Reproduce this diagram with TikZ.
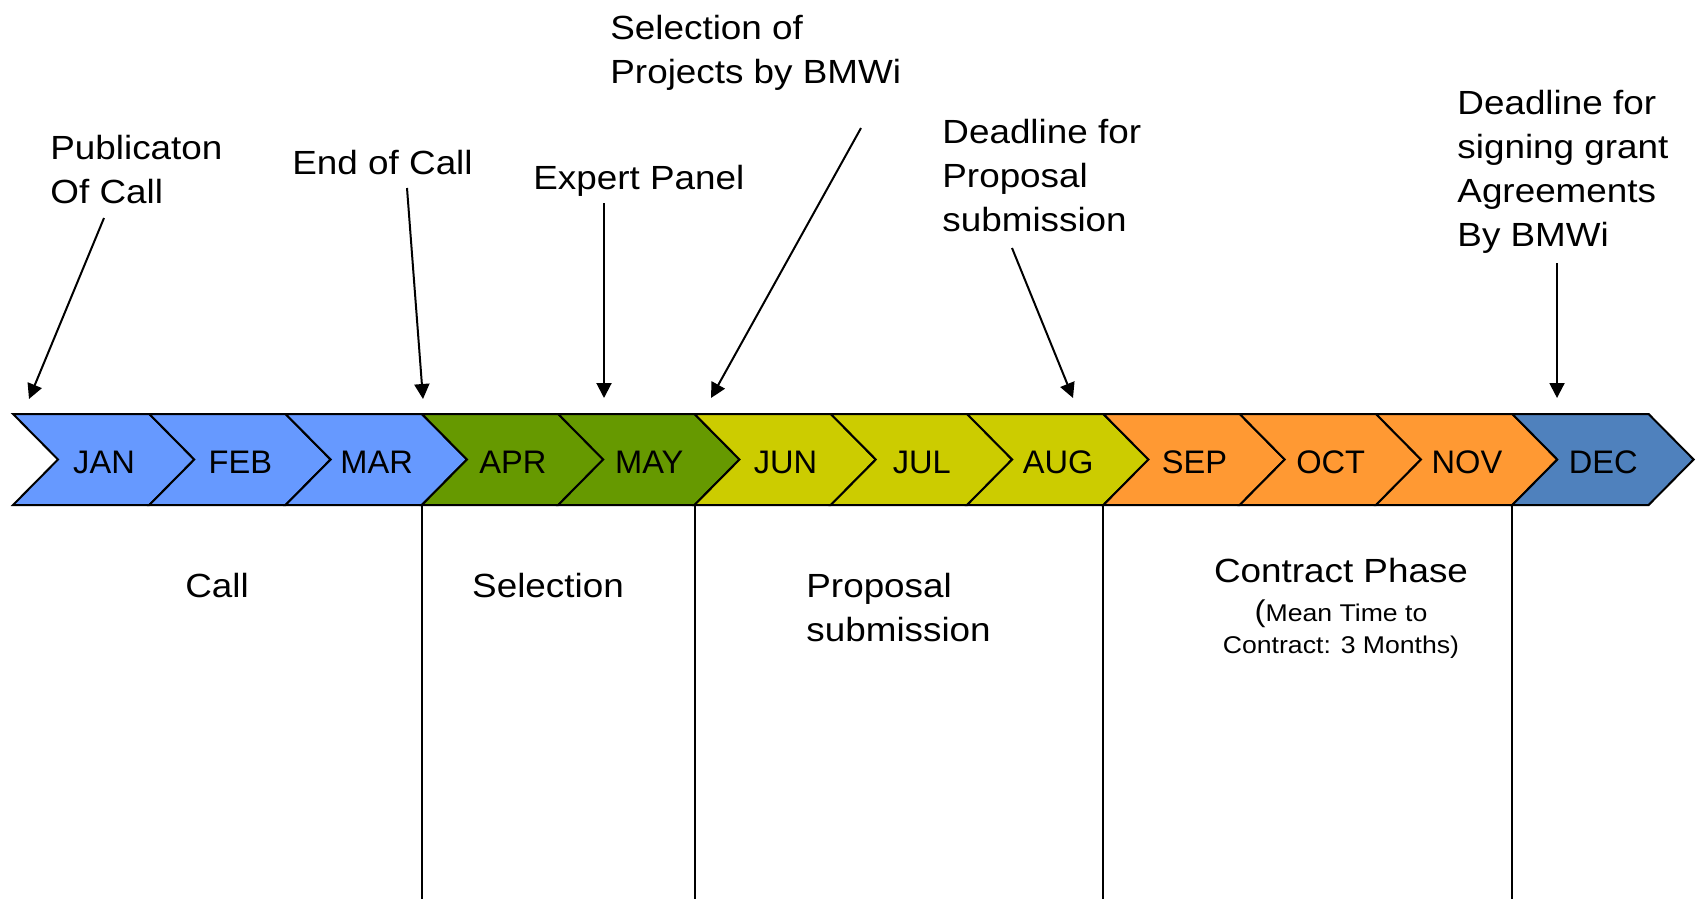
\documentclass[tikz,border=0pt]{standalone}
\usepackage{fontspec}
\setmainfont{Liberation Sans}
\newfontfamily\lblfont[FakeStretch=1.1]{Liberation Sans}
\usetikzlibrary{arrows.meta, calc}

\definecolor{callblue}{HTML}{6699FF}
\definecolor{selgreen}{HTML}{669900}
\definecolor{propyellow}{HTML}{CCCC00}
\definecolor{contorange}{HTML}{FF9933}
\definecolor{decblue}{HTML}{4F81BD}

\tikzset{
    month/.style = {font=\fontsize{16.3}{20}\selectfont, inner sep=0pt, anchor=base},
    note/.style = {font=\lblfont\fontsize{16.75}{22}\selectfont, inner sep=0pt, align=left, anchor=north west},
    phase/.style = {font=\lblfont\fontsize{16.75}{22.5}\selectfont, inner sep=0pt, anchor=base},
    pointer/.style = {line width=1pt, -{Triangle[width=7.5pt,length=7.5pt]}},
    divider/.style = {line width=1pt},
}

\begin{document}
\begin{tikzpicture}[x=0.5pt, y=-0.5pt]
\useasboundingbox (0,0) rectangle (1700,899);

% month chevrons
\foreach \m/\c [count=\i from 0] in {JAN/callblue, FEB/callblue, MAR/callblue, APR/selgreen, MAY/selgreen, JUN/propyellow, JUL/propyellow, AUG/propyellow, SEP/contorange, OCT/contorange, NOV/contorange, DEC/decblue}{
    \pgfmathsetmacro{\x}{13+136.3*\i}
    \draw[line width=1pt, line join=miter, fill=\c] (\x,414) -- ++(136.3,0) -- ++(45,45.5) -- ++(-45,45.5) -- ++(-136.3,0) -- ++(45,-45.5) -- cycle;
    \coordinate (\m-sw) at (\x,505);
    \node[month] (\m) at (\x+91,473) {\m};
}

% phase borders
\draw[divider] (APR-sw) -- ++(0,394);
\draw[divider] (JUN-sw) -- ++(0,394);
\draw[divider] (SEP-sw) -- ++(0,394);
\draw[divider] (DEC-sw) -- ++(0,394);

% events above the bar
\node[note] (pub) at (50,135) {Publicaton\\Of Call};
\node[note] (endcall) at (292,150) {End of Call};
\node[note] (expert) at (533,165) {Expert Panel};
\node[note] (selproj) at (610,15) {Selection of\\Projects by BMWi};
\node[note] (deadprop) at (942,119) {Deadline for\\Proposal\\submission};
\node[note] (deadsign) at (1457,90) {Deadline for\\signing grant\\Agreements\\By BMWi};

\coordinate (pub-tail) at (104,218);
\coordinate (pub-tip) at (29,399);
\coordinate (endcall-tail) at (407,188);
\coordinate (endcall-tip) at (423,399);
\coordinate (expert-tail) at (604,203);
\coordinate (expert-tip) at (604,398);
\coordinate (selproj-tail) at (861,128);
\coordinate (selproj-tip) at (711,398);
\coordinate (deadprop-tail) at (1012,248);
\coordinate (deadprop-tip) at (1073,398);
\coordinate (deadsign-tail) at (1557,263);
\coordinate (deadsign-tip) at (1557,398);

\foreach \e in {pub, endcall, expert, selproj, deadprop, deadsign}
    \draw[pointer] (\e-tail) -- (\e-tip);

% phases below the bar
\node[phase] (call) at (217,597) {Call};
\node[phase] (selection) at (548,597) {Selection};
\node[note] (proposal) at (806,573) {Proposal\\submission};
\node[phase] (contract) at (1341,582) {Contract Phase};
\node[align=center, anchor=north, inner sep=0pt, font=\lblfont\fontsize{12.1}{16.25}\selectfont] (meantime) at (1341,599)
    {{\fontsize{15}{16.25}\selectfont(}Mean Time to\\Contract: 3 Months)};
\end{tikzpicture}
\end{document}
